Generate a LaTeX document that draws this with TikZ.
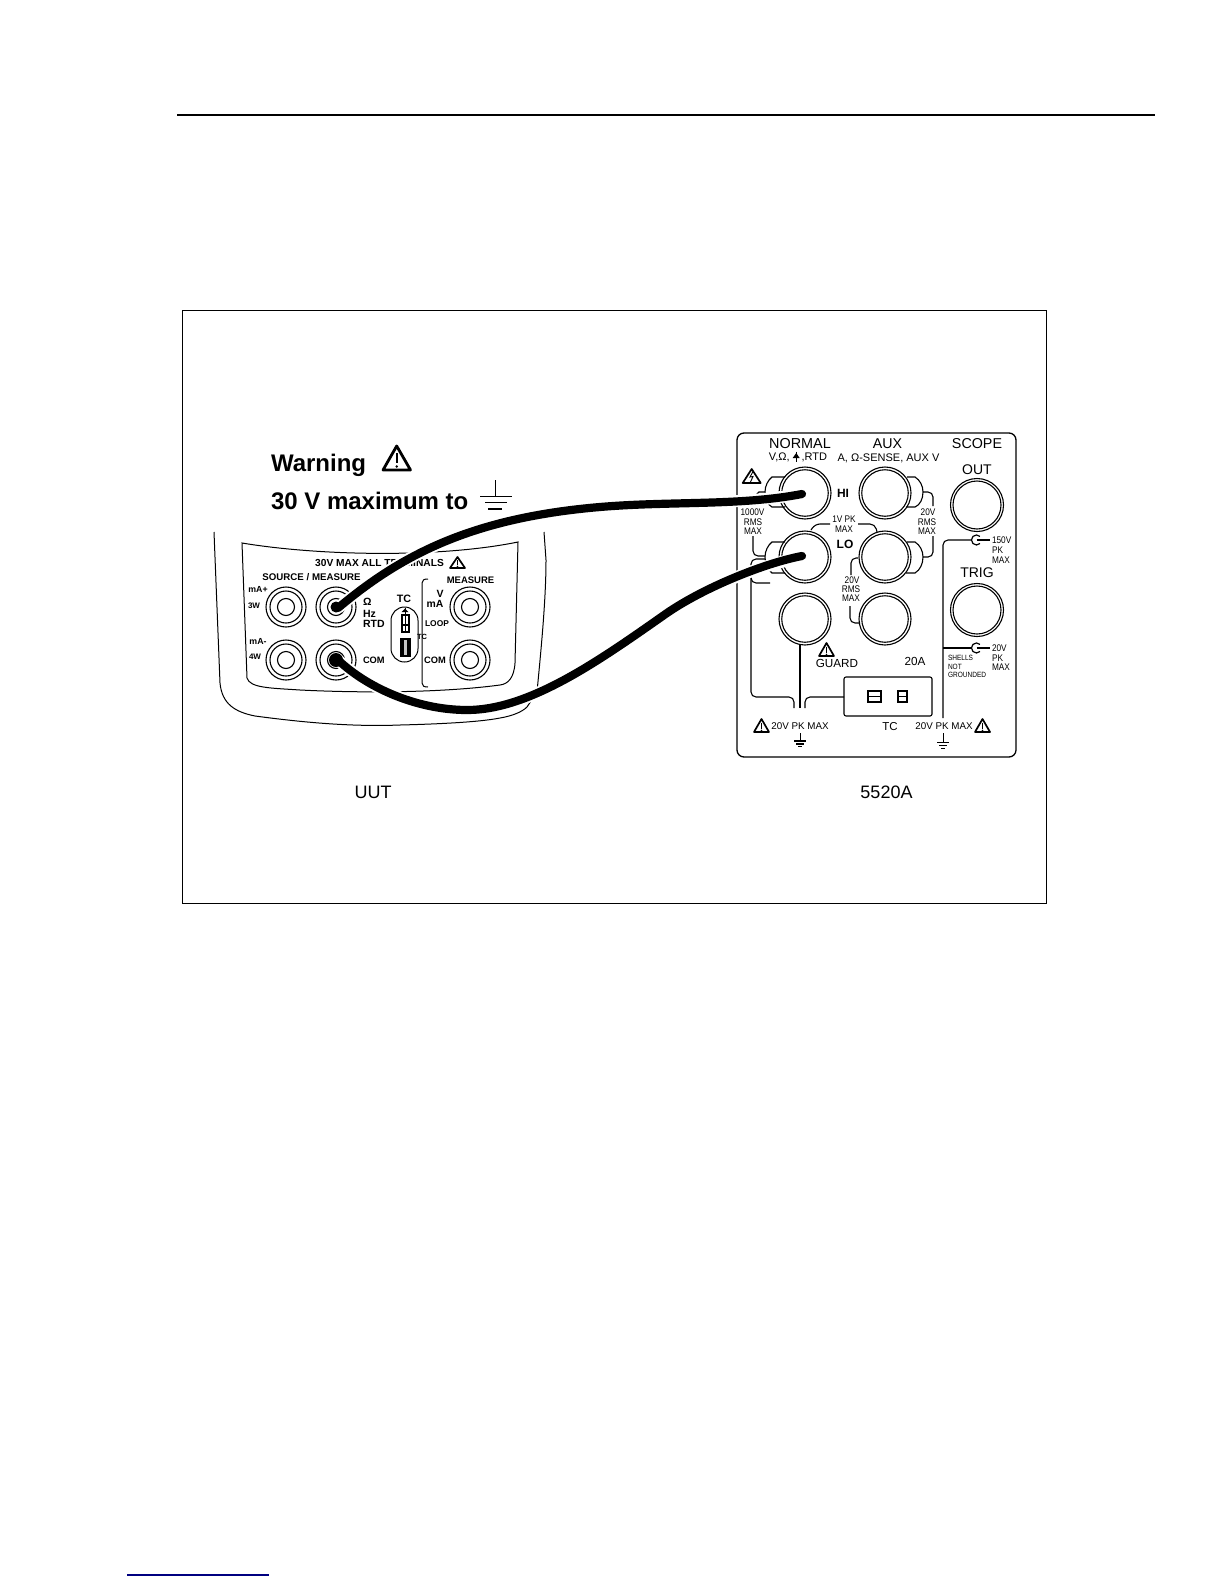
\documentclass[tikz,border=0pt]{standalone}
\usepackage{fontspec}
\setmainfont{Liberation Sans}
\newfontfamily\cond[FakeStretch=0.86]{Liberation Sans}
\usetikzlibrary{calc}
\newcommand{\TL}[5]{\node[lab] (#1) at (#2,#3) {\fontsize{#4}{#4}\selectfont #5};}
\newcommand{\LL}[5]{\node[lab,anchor=west] (#1) at (#2,#3) {\fontsize{#4}{#4}\selectfont #5};}
\newcommand{\jackR}[3]{\node[ring,minimum size=52] (#1) at (#2,#3) {};\node[ring,minimum size=46.5] at (#2,#3) {};}
\newcommand{\jackL}[3]{\node[ring,minimum size=40] (#1) at (#2,#3) {};\node[ring,minimum size=32] at (#2,#3) {};\node[ring,minimum size=17] at (#2,#3) {};}
\newcommand{\warn}[4]{\draw[wline,line join=round] (#1,#2) -- (#1-#3,#4) -- (#1+#3,#4) -- cycle;}
\newcommand{\bang}[3]{\draw[line width=1.3] (#1,#2) -- (#1,#3-3.5); \fill (#1,#3-1.5) circle (0.9);}
\tikzset{
  lab/.style={inner sep=0pt,outer sep=0pt,align=center,text=black},
  ring/.style={circle,draw=black,line width=1.1,inner sep=0pt},
  wire/.style={line width=1.1,black,rounded corners=5pt},
  wline/.style={line width=1.7,black},
  cable/.style={line width=8.2,black,line cap=round},
  halo/.style={line width=12,white},
}
\begin{document}
\begin{tikzpicture}[x=1pt,y=-1pt]
\useasboundingbox (0,0) rectangle (1224,1584);
\fill[white] (0,0) rectangle (1224,1584);
% page furniture
\draw[line width=2.2] (177,114.7) -- (1155,114.7);
\draw[line width=1] (182,310) rectangle (1046.5,903.3);
\draw[line width=1.3,blue!50!black] (127,1575) -- (269,1575);

% warning
\LL{warnT}{271}{465.5}{24}{\bfseries Warning}
\LL{maxT}{271}{501}{24}{\bfseries 30 V maximum to}
\draw[line width=2.8,line join=round] (396.7,446) -- (383,470) -- (410.5,470) -- cycle;
\draw[line width=2.2] (396.7,453) -- (396.7,463); \fill (396.7,466.5) circle (1.3);
\draw[line width=1] (495,480) -- (495,496);
\draw[line width=1] (480,496) -- (512,496);
\draw[line width=1] (485,502.7) -- (507,502.7);
\draw[line width=1.7] (488,509) -- (502,509);

% UUT body
\draw[line width=1] (214,532) -- (220,683) .. controls (222,704) and (235,712) .. (255,716)
   .. controls (300,722) and (350,727) .. (400,725) .. controls (440,724) and (480,722) .. (500,718)
   .. controls (512,716) and (522,712) .. (527,707) -- (537,692)
   .. controls (541,650) and (546,600) .. (546,560) -- (544,532);
\draw[line width=1] (242,543) .. controls (320,556) and (440,558) .. (518,542)
   -- (515,663) .. controls (514,678) and (508,684) .. (500,685)
   .. controls (440,693) and (360,693) .. (300,690) .. controls (270,688) and (250,688) .. (247,678) -- cycle;

% UUT texts
\TL{tMax}{379.5}{563}{10.2}{\bfseries 30V MAX ALL TERMINALS}
\warn{457.5}{557}{7.5}{568}
\bang{457.5}{560}{568}
\TL{tSM}{311.5}{577}{9.7}{\bfseries SOURCE / MEASURE}
\TL{tMeas}{470.5}{580}{9.5}{\bfseries MEASURE}
\TL{tmap}{258}{589}{8.8}{\bfseries mA+}
\TL{t3w}{254}{606}{8}{\bfseries 3W}
\TL{tmam}{258}{641}{8.8}{\bfseries mA-}
\TL{t4w}{255}{657}{8}{\bfseries 4W}
\LL{tohm}{363}{602}{10.5}{\bfseries Ω}
\LL{thz}{363}{614}{10.5}{\bfseries Hz}
\LL{trtd}{363}{624}{10.5}{\bfseries RTD}
\LL{tcom}{363}{660}{9.3}{\bfseries COM}
\TL{ttc}{404}{599}{10.7}{\bfseries TC}
\TL{tv}{440}{594}{10.5}{\bfseries V}
\TL{tma}{435}{604}{10.4}{\bfseries mA}
\TL{tloop}{437}{624}{8.4}{\bfseries LOOP}
\TL{ttcs}{422}{637}{7.5}{\bfseries TC}
\TL{tcomr}{435}{660}{9.3}{\bfseries COM}

\jackL{uA}{286}{607}
\jackL{uHi}{336}{607}
\jackL{uB}{286}{660}
\jackL{uLo}{336}{660}
\jackL{uC}{470}{607}
\jackL{uD}{470}{660}

% TC pill
\draw[line width=1,rounded corners=13.5] (391,607) rectangle (418,662);
\draw[line width=1.2] (402,615) rectangle (409,632);
\draw[line width=0.8] (405.5,615) -- (405.5,632); \draw[line width=1.6] (402,625) -- (409,625);
\fill (405,608.5) -- (401.5,612) -- (408.5,612) -- cycle; \draw[line width=1] (405,607.5) -- (405,614.5);
\draw[line width=1.2,fill=gray!45] (401,639) rectangle (410,656);
\draw[line width=1.6] (403,639) -- (403,656) (408,639) -- (408,656);
% bracket
\draw[line width=1] (428,579) .. controls (424,579) and (422,580) .. (422,583) -- (422,683) .. controls (422,686) and (424,687) .. (428,687);

% 5520A panel
\draw[line width=1.3,rounded corners=7] (737,433) rectangle (1016,757);
\TL{tNorm}{800}{444}{14.4}{NORMAL}
\TL{tNormS}{798}{457.5}{11}{V,Ω,\hspace{12pt},RTD}
\fill (796.2,453) -- (792.7,458) -- (799.7,458) -- cycle; \draw[line width=1.1] (796.2,451.5) -- (796.2,462);
\TL{tAux}{887.5}{444}{14.2}{AUX}
\TL{tAuxS}{888.5}{458}{11}{A, Ω-SENSE, AUX V}
\TL{tScope}{977}{444}{14.3}{SCOPE}
\TL{tOut}{977}{470}{14}{OUT}
\TL{tHi}{843}{493}{12}{\bfseries HI}
\TL{tLo}{845}{544}{12}{\bfseries LO}
\TL{tTrig}{977}{573}{14}{TRIG}
\warn{751.7}{469}{9}{483}
\draw[line width=0.9] (753,471.5) -- (750,477) -- (753,476.5) -- (750.5,482);
\TL{t1k}{752.5}{512}{9.6}{\cond 1000V}
\TL{t1kb}{753}{522}{9.6}{\cond RMS}
\TL{t1kc}{753}{531}{9.6}{\cond MAX}
\TL{t1v}{844}{519}{9.6}{\cond 1V PK}
\TL{t1vb}{844}{529}{9.6}{\cond MAX}
\TL{t20a}{928}{512}{9.6}{\cond 20V}
\TL{t20b}{927}{522}{9.6}{\cond RMS}
\TL{t20c}{927}{531}{9.6}{\cond MAX}
\TL{t20d}{852}{580}{9.6}{\cond 20V}
\TL{t20e}{851}{589}{9.6}{\cond RMS}
\TL{t20f}{851}{598}{9.6}{\cond MAX}
\LL{t150}{992}{540}{9.6}{\cond 150V}
\LL{t150b}{992}{550}{9.6}{\cond PK}
\LL{t150c}{992}{560}{9.6}{\cond MAX}
\LL{t20g}{992}{648}{9.6}{\cond 20V}
\LL{t20h}{992}{658}{9.6}{\cond PK}
\LL{t20i}{992}{667}{9.6}{\cond MAX}
\LL{tSh}{948}{658}{7.6}{\cond SHELLS}
\LL{tNot}{948}{667}{7.6}{\cond NOT}
\LL{tGr}{948}{675}{7.6}{\cond GROUNDED}
\TL{tGuard}{837}{663}{11.7}{GUARD}
\warn{826.5}{643}{7.5}{656}
\bang{826.5}{646.5}{656}
\TL{t20A}{915}{661}{11.7}{20A}
\TL{tTC}{890}{727}{11.5}{TC}
\TL{tPkL}{800}{726}{9.8}{20V PK MAX}
\TL{tPkR}{944}{726}{9.8}{20V PK MAX}
\warn{761.5}{719}{7.5}{732}
\bang{761.5}{722.5}{732}
\warn{982.5}{719}{7.5}{732}
\bang{982.5}{722.5}{732}

% shells behind jacks
\draw[line width=1.1] (785,477) -- (772,477) .. controls (768,480) and (765,486) .. (765,492) .. controls (765,499) and (768,505) .. (772,507) -- (785,507);
\draw[line width=1.1] (765,492) -- (759,492) -- (754,497);
\draw[line width=1.1] (907,477) -- (915,477) .. controls (920,480) and (923,486) .. (923,492) .. controls (923,499) and (920,505) .. (915,507) -- (906,507);
\draw[wire] (923,492) -- (933,492) -- (933,506);
\draw[wire] (933,536) -- (933,557) -- (923,557);
\draw[line width=1.1] (785,542) -- (772,542) .. controls (768,545) and (765,551) .. (765,557) .. controls (765,564) and (768,570) .. (772,573) -- (785,573);
\draw[line width=1.1] (907,542) -- (915,542) .. controls (920,545) and (923,551) .. (923,557) .. controls (923,564) and (920,570) .. (915,573) -- (906,573);
\draw[wire] (753,536) -- (753,556) -- (765,556);
\draw[wire] (765,559) -- (751,559) -- (751,697) -- (794,697) -- (794,708);
\draw[wire] (751,572) -- (751,583) -- (770,583);
\draw[wire] (811,530) -- (815,524) -- (830,524);
\draw[wire] (858,524) -- (875,524) -- (877,532);
\draw[wire] (858,558) -- (851,558) -- (851,575);
\draw[wire] (850,606) -- (850,623) -- (860,623);
\draw[wire] (805,708) -- (805,697) -- (844,697);
\draw[line width=1.1] (800,645) -- (800,708);
\draw[wire] (943,718) -- (943,540) -- (971.5,540);
\draw[line width=1.1] (943,648) -- (971.5,648);
\draw[line width=1.1] (976.5,540) -- (990,540) (976.5,648) -- (990,648);
\draw[line width=1.2] (980,543.5) arc[start angle=45,end angle=315,radius=5];
\draw[line width=1.2] (980,651.5) arc[start angle=45,end angle=315,radius=5];

% ground symbols
\draw[line width=1] (800,733) -- (800,741);
\draw[line width=1.3] (794,741) -- (806,741);
\draw[line width=1.3] (796,744) -- (804,744);
\draw[line width=1.3] (798,746.5) -- (802,746.5);
\draw[line width=1] (943,733) -- (943,742);
\draw[line width=1] (937,742) -- (949,742);
\draw[line width=1] (939,745) -- (947,745);
\draw[line width=1] (941,748) -- (945,748);

% TC socket
\draw[line width=1.1,rounded corners=2] (844,677) rectangle (932,716);
\draw[line width=1.1] (868,691) rectangle (881,702) (868,696.5) -- (881,696.5);
\draw[line width=1.1] (898,691) rectangle (907,702) (898,696.5) -- (907,696.5);

% jacks
\jackR{nHi}{805}{493}
\jackR{aHi}{885}{493}
\node[ring,minimum size=53] (sOut) at (977,505) {};\node[ring,minimum size=48] at (977,505) {};
\jackR{nLo}{805}{557}
\jackR{aLo}{885}{557}
\jackR{grd}{805}{619}
\jackR{a20}{885}{619}
\node[ring,minimum size=53] (sTrig) at (977,610) {};\node[ring,minimum size=48] at (977,610) {};

% UUT / 5520A
\TL{tUUT}{373}{792}{18}{UUT}
\TL{t5520}{886.5}{792}{18}{5520A}

% test leads
\draw[halo] (uHi.center) ++(2,1) .. controls (400,556) and (470,518) .. (600,507) .. controls (670,501) and (740,506) .. (nHi.center);
\draw[halo] (uLo.center) ++(2,0) .. controls (370,690) and (420,710) .. (467,710) .. controls (530,710) and (600,660) .. (667,613) .. controls (705,587) and (765,563) .. (nLo.center);
\fill[black] (uHi) circle (5.5);
\fill[black] (uLo) circle (7);
\draw[cable] (uHi.center) ++(2,1) .. controls (400,556) and (470,518) .. (600,507) .. controls (670,501) and (740,506) .. ($(nHi.center)+(-3,1)$);
\draw[cable] (uLo.center) ++(2,0) .. controls (370,690) and (420,710) .. (467,710) .. controls (530,710) and (600,660) .. (667,613) .. controls (705,587) and (765,563) .. ($(nLo.center)+(-3,-1)$);
\end{tikzpicture}
\end{document}
